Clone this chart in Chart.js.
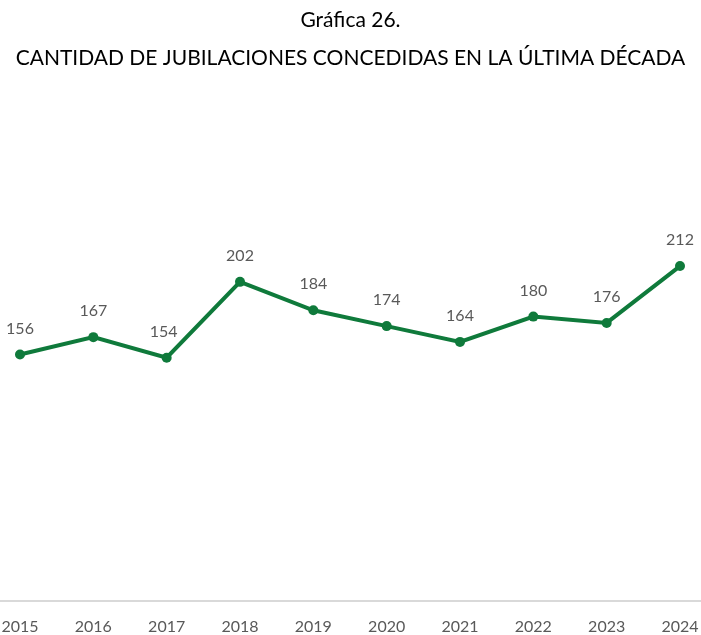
<!DOCTYPE html>
<html>
<head>
<meta charset="utf-8">
<script src="https://cdn.jsdelivr.net/npm/chart.js@4"></script>
<style>
  body { margin: 0; background: #fff; }
  #wrap { width: 701px; height: 635px; }
</style>
</head>
<body>
<div id="wrap"><canvas id="grafica"></canvas></div>
<script>
// datos de la grafica
var anios = ["2015", "2016", "2017", "2018", "2019", "2020", "2021", "2022", "2023", "2024"];
var jubilaciones = [156, 167, 154, 202, 184, 174, 164, 180, 176, 212];
var titulo = ["Gráfica 26.", "CANTIDAD DE JUBILACIONES CONCEDIDAS EN LA ÚLTIMA DÉCADA"];

var verde = "#0f7a3b";

// etiquetas con el valor encima de cada punto
var etiquetas = {
	id: "etiquetas",
	beforeDatasetsDraw: function (chart) {
		// linea base de ancho completo
		var ctx = chart.ctx;
		var y = chart.scales.y.getPixelForValue(0);
		ctx.save();
		ctx.strokeStyle = "#d9d9d9";
		ctx.lineWidth = 2;
		ctx.beginPath();
		ctx.moveTo(0, y);
		ctx.lineTo(chart.width, y);
		ctx.stroke();
		ctx.restore();
	},
	afterDatasetsDraw: function (chart) {
		var ctx = chart.ctx;
		var meta = chart.getDatasetMeta(0);
		ctx.save();
		ctx.font = "16px Lato";
		ctx.fillStyle = "#595959";
		ctx.textAlign = "center";
		ctx.textBaseline = "middle";
		meta.data.forEach(function (p, i) {
			ctx.fillText(chart.data.datasets[0].data[i], p.x - (i == 2 ? 3 : 0), p.y - 26);
		});
		ctx.restore();
	},
};

var grafico = new Chart(document.getElementById("grafica"), {
	type: "line",
	data: {
		labels: anios,
		datasets: [
			{
				data: jubilaciones,
				borderColor: verde,
				backgroundColor: verde,
				borderWidth: 4,
				pointRadius: 5,
				pointBackgroundColor: verde,
				pointBorderWidth: 0,
				tension: 0,
			},
		],
	},
	options: {
		responsive: true,
		maintainAspectRatio: false,
		animation: false,
		layout: {
			padding: { left: 0, right: 0, top: 0, bottom: 0 },
		},
		plugins: {
			legend: { display: false },
			tooltip: { enabled: false },
			title: {
				display: true,
				text: titulo,
				color: "#000",
				font: { family: "Lato", size: 21, weight: "normal", lineHeight: 1.81 },
				padding: { top: 1, bottom: 129 },
			},
		},
		scales: {
			x: {
				offset: false,
				grid: { display: false },
				border: { display: false },
				ticks: {
					color: "#595959",
					font: { family: "Lato", size: 16 },
					padding: 8,
					maxRotation: 0,
					autoSkip: false,
				},
				afterFit: function (scale) {
					scale.height = 34;
					scale.paddingLeft = 20;
					scale.paddingRight = 21;
				},
			},
			y: {
				display: false,
				min: 0,
				max: 250,
			},
		},
	},
	plugins: [etiquetas],
});
</script>
</body>
</html>
